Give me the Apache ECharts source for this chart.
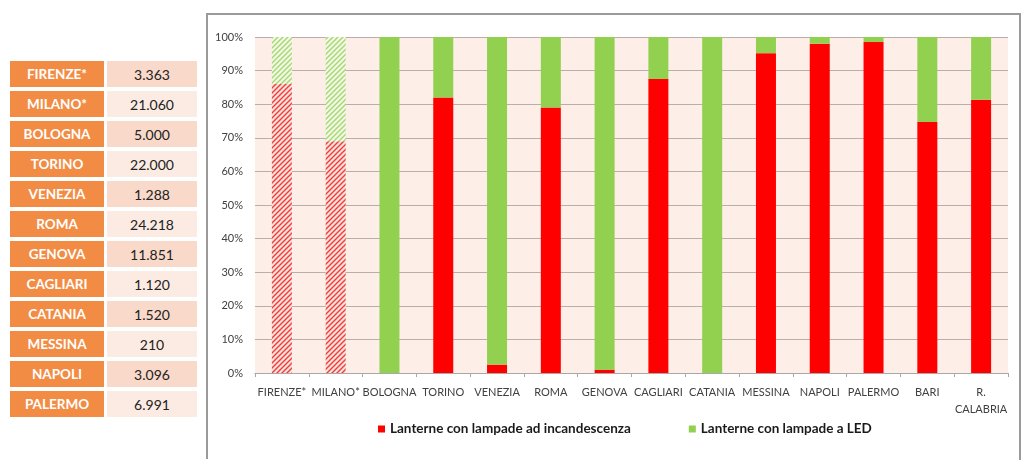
<!DOCTYPE html>
<html><head><meta charset="utf-8">
<script src="https://cdn.jsdelivr.net/npm/echarts@6/dist/echarts.min.js"></script>
<style>
html,body{margin:0;padding:0;background:#fff;width:1024px;height:471px;overflow:hidden;}
#chart{position:absolute;left:0;top:0;width:1024px;height:471px;}
#tbl{position:absolute;left:10px;top:57px;border-collapse:separate;border-spacing:0 4px;font-family:Lato,"Noto Sans",sans-serif;}
#tbl td{height:26px;padding:0;text-align:center;}
#tbl td.c{width:94px;background:#f28c45;color:#fff;font-weight:bold;font-size:13.5px;}
#tbl td.v{width:90px;color:#222;font-size:14px;}
#tbl tr:nth-child(odd) td.v{background:#f9d9ca;}
#tbl tr:nth-child(even) td.v{background:#fcebe3;}
#tbl td.gap{width:3px;background:transparent;}
</style></head>
<body>
<table id="tbl"></table>
<div id="chart"></div>
<script>
// ---- data ----
const tableCities = ['FIRENZE*','MILANO*','BOLOGNA','TORINO','VENEZIA','ROMA','GENOVA','CAGLIARI','CATANIA','MESSINA','NAPOLI','PALERMO'];
const tableValues = ['3.363','21.060','5.000','22.000','1.288','24.218','11.851','1.120','1.520','210','3.096','6.991'];
const categories = ['FIRENZE*','MILANO*','BOLOGNA','TORINO','VENEZIA','ROMA','GENOVA','CAGLIARI','CATANIA','MESSINA','NAPOLI','PALERMO','BARI','R.\nCALABRIA'];
const incandescent = [86, 69, 0, 82, 2.5, 79, 1, 87.5, 0, 95.2, 98, 98.5, 74.7, 81.3];
const led = [14, 31, 100, 18, 97.5, 21, 99, 12.5, 100, 4.8, 2, 1.5, 25.3, 18.7];
const hatched = ['FIRENZE*','MILANO*'];
const yTicks = [0,10,20,30,40,50,60,70,80,90,100];
const seriesNames = ['Lanterne con lampade ad incandescenza','Lanterne con lampade a LED'];

// ---- table ----
const tbl = document.getElementById('tbl');
tableCities.forEach((c,i)=>{
  const tr = document.createElement('tr');
  tr.innerHTML = '<td class="c">'+c+'</td><td class="gap"></td><td class="v">'+tableValues[i]+'</td>';
  tbl.appendChild(tr);
});

// ---- patterns ----
function makePattern(bg, fg){
  const s = 5;
  const cv = document.createElement('canvas');
  cv.width = s; cv.height = s;
  const ctx = cv.getContext('2d');
  ctx.fillStyle = bg; ctx.fillRect(0,0,s,s);
  ctx.strokeStyle = fg; ctx.lineWidth = 1.4;
  ctx.beginPath();
  ctx.moveTo(0,s); ctx.lineTo(s,0);
  ctx.moveTo(-1,1); ctx.lineTo(1,-1);
  ctx.moveTo(s-1,s+1); ctx.lineTo(s+1,s-1);
  ctx.stroke();
  return {image: cv, repeat: 'repeat'};
}
const redPat = makePattern('#fbe3dc', '#ef3b3b');
const greenPat = makePattern('#f3f7e6', '#a6d870');

function buildData(vals, color, pat){
  return vals.map((v,i)=> hatched.includes(categories[i]) ? {value:v, itemStyle:{color:pat}} : {value:v, itemStyle:{color:color}});
}

const chart = echarts.init(document.getElementById('chart'), null, {renderer:'canvas'});
const font = 'Lato, "Noto Sans", sans-serif';
chart.setOption({
  animation:false,
  textStyle:{fontFamily:font},
  graphic:[{
    type:'polyline', silent:true,
    shape:{points:[[207,459],[207,14],[1020,14],[1020,460]]},
    style:{stroke:'#9a9a9a', lineWidth:2, fill:null}
  }],
  grid:{left:255, right:16, top:37, bottom:98, show:true, backgroundColor:'#fdeee8', borderWidth:0},
  legend:{
    bottom:30, left:373, itemWidth:7, itemHeight:7, itemGap:58, icon:'rect',
    textStyle:{fontSize:13.5, fontWeight:'bold', color:'#1a1a1a', fontFamily:font},
    data:seriesNames
  },
  xAxis:{
    type:'category', data:categories,
    axisLine:{lineStyle:{color:'#a8a8a8'}},
    axisTick:{show:true, length:4, lineStyle:{color:'#a8a8a8'}},
    axisLabel:{interval:0, color:'#404040', fontSize:11, margin:11, lineHeight:17}
  },
  yAxis:{
    type:'value', min:0, max:100, interval:10,
    axisLine:{show:false}, axisTick:{show:false},
    axisLabel:{color:'#404040', fontSize:11, margin:12, formatter:v=> yTicks.includes(v) ? v+'%' : ''},
    splitLine:{lineStyle:{color:'#b9aeab', width:1.2}}
  },
  series:[
    {name:seriesNames[0], type:'bar', stack:'t', barWidth:20, itemStyle:{color:'#ff0000'}, data:buildData(incandescent,'#ff0000',redPat)},
    {name:seriesNames[1], type:'bar', stack:'t', barWidth:20, itemStyle:{color:'#92d050'}, data:buildData(led,'#92d050',greenPat)}
  ]
});
</script>
</body></html>
